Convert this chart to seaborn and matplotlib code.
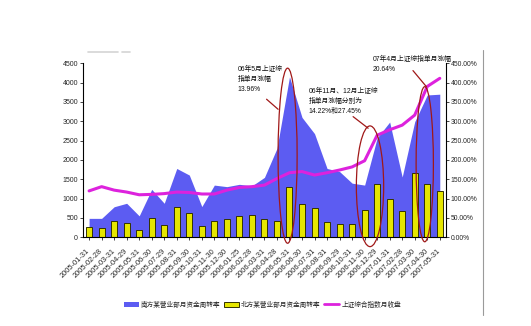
import numpy as np
import pandas as pd
import matplotlib
matplotlib.use("Agg")
import matplotlib.pyplot as plt
import seaborn as sns
from matplotlib.patches import Ellipse, Patch
from matplotlib.lines import Line2D
from matplotlib.ticker import FuncFormatter, MultipleLocator

dates = ["2005-01-31", "2005-02-28", "2005-03-31", "2005-04-29", "2005-05-31",
         "2005-06-30", "2005-07-29", "2005-08-31", "2005-09-30", "2005-10-31",
         "2005-11-30", "2005-12-30", "2006-01-25", "2006-02-28", "2006-03-31",
         "2006-04-28", "2006-05-31", "2006-06-30", "2006-07-31", "2006-08-31",
         "2006-09-29", "2006-10-31", "2006-11-30", "2006-12-29", "2007-01-31",
         "2007-02-28", "2007-03-30", "2007-04-30", "2007-05-31"]
south = [490, 490, 790, 880, 555, 1240, 880, 1780, 1610, 795, 1350, 1310, 1370,
         1330, 1550, 2300, 4150, 3100, 2680, 1780, 1700, 1400, 1350, 2570, 2980,
         1560, 2990, 3680, 3700]
north = [260, 240, 410, 380, 190, 490, 330, 790, 620, 290, 410, 470, 550, 580,
         465, 415, 1290, 870, 765, 385, 335, 335, 715, 1370, 1000, 685, 1660,
         1380, 1200]
index_pct = [120, 131, 122, 117, 110, 111, 113, 117, 116, 112, 112, 122, 129,
             131, 135, 152, 167, 170, 161, 167, 174, 182, 198, 264, 278, 290,
             316, 390, 411]

label_south = "南方某营业部月资金周转率"
label_north = "北方某营业部月资金周转率"
label_index = "上证综合指数月收盘"
notes = ["06年5月上证综\n指单月涨幅\n13.96%",
         "06年11月、12月上证综\n指单月涨幅分别为\n14.22%和27.45%",
         "07年4月上证综指单月涨幅\n20.64%"]

df = pd.DataFrame({"date": dates, "south": south, "north": north,
                   "index": index_pct})
df["pos"] = np.arange(len(df))

sns.set_style("white")
plt.rcParams["font.family"] = ["Liberation Sans", "Noto Sans CJK SC", "DejaVu Sans"]

BLUE = "#5c5cf2"
YELLOW = "#e6e600"
MAGENTA = "#dd22dd"
RED = "#a01818"

fig = plt.figure(figsize=(5.31, 3.26), dpi=100)
ax = fig.add_axes([0.156, 0.272, 0.684, 0.534])

ax.fill_between(df["pos"], 0, df["south"], color=BLUE, lw=0, zorder=1)
sns.barplot(data=df, x="date", y="north", ax=ax, color=YELLOW, width=0.48,
            edgecolor="#333300", linewidth=0.7, saturation=1, zorder=2)

ax.set_xlim(-0.5, len(df) - 0.5)
ax.set_ylim(0, 4500)
ax.yaxis.set_major_locator(MultipleLocator(500))
ax.set_xlabel("")
ax.set_ylabel("")
for s in ["top", "right"]:
    ax.spines[s].set_visible(False)
for s in ["left", "bottom"]:
    ax.spines[s].set_color("#000000")
    ax.spines[s].set_linewidth(0.8)
ax.tick_params(axis="y", length=2, width=0.6, labelsize=5, pad=1.5, left=True)
ax.tick_params(axis="x", length=2, width=0.6, labelsize=5.4, pad=7, bottom=True)
ax.set_xticks(df["pos"])
ax.set_xticklabels(df["date"], rotation=45, ha="right", va="center",
                   rotation_mode="anchor")

ax2 = ax.twinx()
sns.lineplot(data=df, x="pos", y="index", ax=ax2, color=MAGENTA, lw=2.2,
             zorder=3)
ax2.set_ylim(0, 450)
ax2.yaxis.set_major_locator(MultipleLocator(50))
ax2.yaxis.set_major_formatter(FuncFormatter(lambda v, p: f"{v:.2f}%"))
ax2.set_xlim(-0.5, len(df) - 0.5)
ax2.set_xlabel("")
ax2.set_ylabel("")
for s in ["top", "left", "bottom"]:
    ax2.spines[s].set_visible(False)
ax2.spines["right"].set_color("#000000")
ax2.spines["right"].set_linewidth(0.8)
ax2.tick_params(axis="y", length=2, width=0.6, labelsize=4.9, pad=1.5, right=True)

# highlight ellipses
for (cx, cy, w, h) in [(15.85, 2110, 1.52, 4526), (22.43, 1320, 2.18, 3120),
                       (26.8, 1890, 1.38, 4009)]:
    ax2.add_patch(Ellipse((cx, cy), w, h, transform=ax.transData, fill=False,
                          edgecolor=RED, lw=0.9, clip_on=False, zorder=5))

# annotation pointers
for (x0, y0, x1, y1) in [(14.17, 3570, 15.09, 3310), (21.08, 3120, 22.28, 2820),
                         (25.86, 4310, 26.93, 3895)]:
    ax2.plot([x0, x1], [y0, y1], transform=ax.transData, color=RED, lw=0.9,
             clip_on=False, zorder=5)

for (tx, ty), txt in zip([(11.88, 4430), (17.54, 3860), (22.65, 4680)], notes):
    ax2.text(tx, ty, txt, transform=ax.transData, fontsize=4.9, ha="left",
             va="top", linespacing=1.6, color="#111111", zorder=6)

handles = [Patch(facecolor=BLUE, edgecolor="none"),
           Patch(facecolor=YELLOW, edgecolor="#333300", lw=0.7),
           Line2D([0], [0], color=MAGENTA, lw=2)]
fig.legend(handles, [label_south, label_north, label_index], loc="center",
           bbox_to_anchor=(0.494, 0.064), ncol=3, frameon=False, fontsize=4.8,
           handlelength=2.3, handleheight=0.9, columnspacing=0.5,
           handletextpad=0.3)

# decorative frame marks
fig.add_artist(Line2D([0.9096, 0.9096], [0.034, 0.847], color="#9a9a9a", lw=0.8))
fig.add_artist(Line2D([0.166, 0.222], [0.840, 0.840], color="#d4d4d4", lw=1.2))
fig.add_artist(Line2D([0.230, 0.245], [0.840, 0.840], color="#d4d4d4", lw=1.2))

fig.savefig("out.png", dpi=100)
